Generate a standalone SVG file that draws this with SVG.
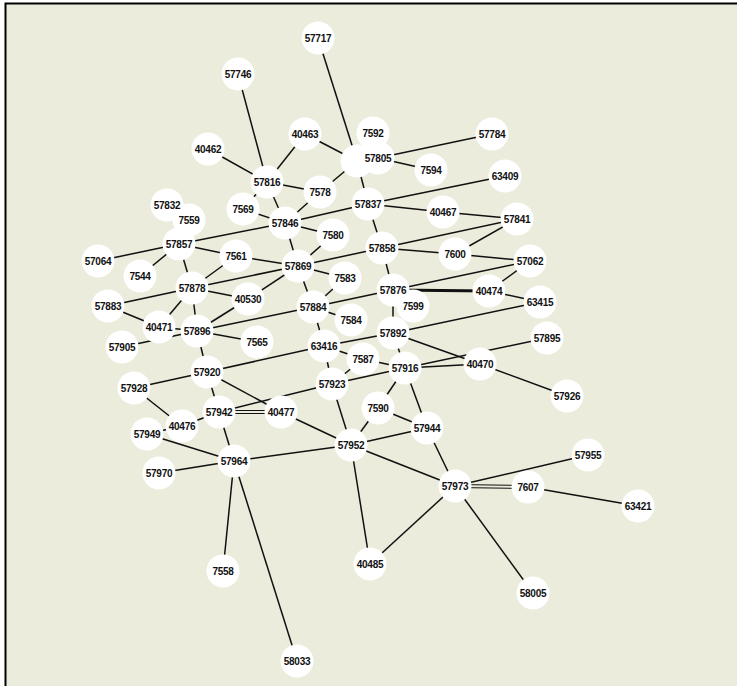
<svg xmlns="http://www.w3.org/2000/svg" width="737" height="686" viewBox="0 0 737 686">
<style>
.e{stroke:#111;stroke-width:1.5;fill:none}
.n circle{fill:#fff}
.n text{font-family:"Liberation Sans",Arial,sans-serif;font-size:10px;font-weight:bold;fill:#111;text-anchor:middle;dominant-baseline:central;letter-spacing:-0.3px}
</style>
<rect width="737" height="686" fill="#fff"/>
<rect x="5" y="3" width="732" height="683" fill="#ECECDC"/>
<path d="M5.5,686V3.5H737" stroke="#000" stroke-width="2" fill="none"/>
<g id="edges" class="e">
<line x1="318" y1="38" x2="357" y2="161"/>
<line x1="305" y1="134" x2="357" y2="161"/>
<line x1="305" y1="134" x2="267" y2="182"/>
<line x1="357" y1="161" x2="320" y2="192"/>
<line x1="357" y1="161" x2="368" y2="204"/>
<line x1="378" y1="158" x2="492" y2="134"/>
<line x1="378" y1="158" x2="431" y2="170"/>
<line x1="238" y1="74" x2="267" y2="182"/>
<line x1="208" y1="149" x2="267" y2="182"/>
<line x1="267" y1="182" x2="320" y2="192"/>
<line x1="267" y1="182" x2="285" y2="223"/>
<line x1="243" y1="209" x2="267" y2="182"/>
<line x1="320" y1="192" x2="285" y2="223"/>
<line x1="243" y1="209" x2="285" y2="223"/>
<line x1="285" y1="223" x2="179" y2="244"/>
<line x1="285" y1="223" x2="368" y2="204"/>
<line x1="285" y1="223" x2="333" y2="235"/>
<line x1="285" y1="223" x2="298" y2="266"/>
<line x1="333" y1="235" x2="298" y2="266"/>
<line x1="368" y1="204" x2="505" y2="176"/>
<line x1="368" y1="204" x2="443" y2="212"/>
<line x1="443" y1="212" x2="517" y2="219"/>
<line x1="368" y1="204" x2="382" y2="248"/>
<line x1="382" y1="248" x2="517" y2="219"/>
<line x1="455" y1="254" x2="517" y2="219"/>
<line x1="382" y1="248" x2="455" y2="254"/>
<line x1="455" y1="254" x2="530" y2="261"/>
<line x1="382" y1="248" x2="298" y2="266"/>
<line x1="382" y1="248" x2="393" y2="290"/>
<line x1="393" y1="290" x2="530" y2="261"/>
<line x1="393" y1="290" x2="489" y2="291" stroke-width="2.8"/>
<line x1="489" y1="291" x2="530" y2="261"/>
<line x1="489" y1="291" x2="540" y2="302"/>
<line x1="393" y1="333" x2="540" y2="302"/>
<line x1="393" y1="290" x2="313" y2="307"/>
<line x1="313" y1="307" x2="197" y2="331"/>
<line x1="298" y1="266" x2="313" y2="307"/>
<line x1="345" y1="278" x2="313" y2="307"/>
<line x1="298" y1="266" x2="345" y2="278"/>
<line x1="313" y1="307" x2="351" y2="320"/>
<line x1="313" y1="307" x2="324" y2="346"/>
<line x1="393" y1="333" x2="324" y2="346"/>
<line x1="393" y1="290" x2="393" y2="333"/>
<line x1="298" y1="266" x2="192" y2="288"/>
<line x1="236" y1="256" x2="298" y2="266"/>
<line x1="248" y1="299" x2="298" y2="266"/>
<line x1="179" y1="244" x2="98" y2="261"/>
<line x1="179" y1="244" x2="140" y2="276"/>
<line x1="179" y1="244" x2="236" y2="256"/>
<line x1="179" y1="244" x2="192" y2="288"/>
<line x1="236" y1="256" x2="192" y2="288"/>
<line x1="192" y1="288" x2="108" y2="306"/>
<line x1="192" y1="288" x2="248" y2="299"/>
<line x1="192" y1="288" x2="159" y2="327"/>
<line x1="192" y1="288" x2="197" y2="331"/>
<line x1="248" y1="299" x2="197" y2="331"/>
<line x1="108" y1="306" x2="159" y2="327"/>
<line x1="159" y1="327" x2="197" y2="331"/>
<line x1="122" y1="347" x2="197" y2="331"/>
<line x1="197" y1="331" x2="257" y2="342"/>
<line x1="197" y1="331" x2="207" y2="372"/>
<line x1="207" y1="372" x2="134" y2="388"/>
<line x1="207" y1="372" x2="324" y2="346"/>
<line x1="207" y1="372" x2="281" y2="412"/>
<line x1="219" y1="412" x2="332" y2="384"/>
<line x1="332" y1="384" x2="405" y2="368"/>
<line x1="219" y1="410.5" x2="281" y2="410.5" stroke-width="1.2"/>
<line x1="219" y1="413.5" x2="281" y2="413.5" stroke-width="1.2"/>
<line x1="219" y1="412" x2="182" y2="426"/>
<line x1="207" y1="372" x2="219" y2="412"/>
<line x1="134" y1="388" x2="182" y2="426"/>
<line x1="182" y1="426" x2="147" y2="434"/>
<line x1="147" y1="434" x2="234" y2="461"/>
<line x1="219" y1="412" x2="234" y2="461"/>
<line x1="159" y1="473" x2="234" y2="461"/>
<line x1="234" y1="461" x2="351" y2="445"/>
<line x1="234" y1="461" x2="223" y2="571"/>
<line x1="234" y1="461" x2="297" y2="661"/>
<line x1="281" y1="412" x2="351" y2="445"/>
<line x1="332" y1="384" x2="351" y2="445"/>
<line x1="324" y1="346" x2="332" y2="384"/>
<line x1="363" y1="359" x2="332" y2="384"/>
<line x1="324" y1="346" x2="363" y2="359"/>
<line x1="363" y1="359" x2="405" y2="368"/>
<line x1="393" y1="333" x2="405" y2="368"/>
<line x1="393" y1="333" x2="480" y2="364"/>
<line x1="405" y1="368" x2="480" y2="364"/>
<line x1="405" y1="368" x2="547" y2="338"/>
<line x1="480" y1="364" x2="567" y2="396"/>
<line x1="405" y1="368" x2="378" y2="408"/>
<line x1="405" y1="368" x2="427" y2="428"/>
<line x1="378" y1="408" x2="427" y2="428"/>
<line x1="378" y1="408" x2="351" y2="445"/>
<line x1="351" y1="445" x2="427" y2="428"/>
<line x1="351" y1="445" x2="455" y2="486"/>
<line x1="427" y1="428" x2="455" y2="486"/>
<line x1="351" y1="445" x2="370" y2="564"/>
<line x1="455" y1="486" x2="370" y2="564"/>
<line x1="455" y1="486" x2="533" y2="593"/>
<line x1="455" y1="486" x2="588" y2="455"/>
<line x1="455" y1="484.5" x2="528" y2="485.5" stroke-width="1.2"/>
<line x1="455" y1="487.5" x2="528" y2="488.5" stroke-width="1.2"/>
<line x1="528" y1="487" x2="638" y2="506"/>
</g>
<g id="nH" class="n"><circle cx="357" cy="161" r="16.5"/></g>
<g id="n7599" class="n"><circle cx="413" cy="306" r="16.5"/><text x="413" y="306">7599</text></g>
<g id="n7559" class="n"><circle cx="189" cy="220" r="16.5"/><text x="189" y="220">7559</text></g>
<g id="n57717" class="n"><circle cx="318" cy="38" r="16.5"/><text x="318" y="38">57717</text></g>
<g id="n57746" class="n"><circle cx="238" cy="74" r="16.5"/><text x="238" y="74">57746</text></g>
<g id="n40463" class="n"><circle cx="305" cy="134" r="16.5"/><text x="305" y="134">40463</text></g>
<g id="n7592" class="n"><circle cx="373" cy="133" r="16.5"/><text x="373" y="133">7592</text></g>
<g id="n57784" class="n"><circle cx="492" cy="134" r="16.5"/><text x="492" y="134">57784</text></g>
<g id="n40462" class="n"><circle cx="208" cy="149" r="16.5"/><text x="208" y="149">40462</text></g>
<g id="n57805" class="n"><circle cx="378" cy="158" r="16.5"/><text x="378" y="158">57805</text></g>
<g id="n7594" class="n"><circle cx="431" cy="170" r="16.5"/><text x="431" y="170">7594</text></g>
<g id="n57816" class="n"><circle cx="267" cy="182" r="16.5"/><text x="267" y="182">57816</text></g>
<g id="n7578" class="n"><circle cx="320" cy="192" r="16.5"/><text x="320" y="192">7578</text></g>
<g id="n63409" class="n"><circle cx="505" cy="176" r="16.5"/><text x="505" y="176">63409</text></g>
<g id="n57837" class="n"><circle cx="368" cy="204" r="16.5"/><text x="368" y="204">57837</text></g>
<g id="n40467" class="n"><circle cx="443" cy="212" r="16.5"/><text x="443" y="212">40467</text></g>
<g id="n57841" class="n"><circle cx="517" cy="219" r="16.5"/><text x="517" y="219">57841</text></g>
<g id="n57832" class="n"><circle cx="167" cy="205" r="16.5"/><text x="167" y="205">57832</text></g>
<g id="n7569" class="n"><circle cx="243" cy="209" r="16.5"/><text x="243" y="209">7569</text></g>
<g id="n57846" class="n"><circle cx="285" cy="223" r="16.5"/><text x="285" y="223">57846</text></g>
<g id="n7580" class="n"><circle cx="333" cy="235" r="16.5"/><text x="333" y="235">7580</text></g>
<g id="n57857" class="n"><circle cx="179" cy="244" r="16.5"/><text x="179" y="244">57857</text></g>
<g id="n57858" class="n"><circle cx="382" cy="248" r="16.5"/><text x="382" y="248">57858</text></g>
<g id="n7600" class="n"><circle cx="455" cy="254" r="16.5"/><text x="455" y="254">7600</text></g>
<g id="n57064" class="n"><circle cx="98" cy="261" r="16.5"/><text x="98" y="261">57064</text></g>
<g id="n7561" class="n"><circle cx="236" cy="256" r="16.5"/><text x="236" y="256">7561</text></g>
<g id="n57869" class="n"><circle cx="298" cy="266" r="16.5"/><text x="298" y="266">57869</text></g>
<g id="n57062" class="n"><circle cx="530" cy="261" r="16.5"/><text x="530" y="261">57062</text></g>
<g id="n7544" class="n"><circle cx="140" cy="276" r="16.5"/><text x="140" y="276">7544</text></g>
<g id="n7583" class="n"><circle cx="345" cy="278" r="16.5"/><text x="345" y="278">7583</text></g>
<g id="n57878" class="n"><circle cx="192" cy="288" r="16.5"/><text x="192" y="288">57878</text></g>
<g id="n57876" class="n"><circle cx="393" cy="290" r="16.5"/><text x="393" y="290">57876</text></g>
<g id="n40474" class="n"><circle cx="489" cy="291" r="16.5"/><text x="489" y="291">40474</text></g>
<g id="n40530" class="n"><circle cx="248" cy="299" r="16.5"/><text x="248" y="299">40530</text></g>
<g id="n57883" class="n"><circle cx="108" cy="306" r="16.5"/><text x="108" y="306">57883</text></g>
<g id="n63415" class="n"><circle cx="540" cy="302" r="16.5"/><text x="540" y="302">63415</text></g>
<g id="n57884" class="n"><circle cx="313" cy="307" r="16.5"/><text x="313" y="307">57884</text></g>
<g id="n7584" class="n"><circle cx="351" cy="320" r="16.5"/><text x="351" y="320">7584</text></g>
<g id="n40471" class="n"><circle cx="159" cy="327" r="16.5"/><text x="159" y="327">40471</text></g>
<g id="n57896" class="n"><circle cx="197" cy="331" r="16.5"/><text x="197" y="331">57896</text></g>
<g id="n7565" class="n"><circle cx="257" cy="342" r="16.5"/><text x="257" y="342">7565</text></g>
<g id="n57892" class="n"><circle cx="393" cy="333" r="16.5"/><text x="393" y="333">57892</text></g>
<g id="n57905" class="n"><circle cx="122" cy="347" r="16.5"/><text x="122" y="347">57905</text></g>
<g id="n63416" class="n"><circle cx="324" cy="346" r="16.5"/><text x="324" y="346">63416</text></g>
<g id="n57895" class="n"><circle cx="547" cy="338" r="16.5"/><text x="547" y="338">57895</text></g>
<g id="n7587" class="n"><circle cx="363" cy="359" r="16.5"/><text x="363" y="359">7587</text></g>
<g id="n57916" class="n"><circle cx="405" cy="368" r="16.5"/><text x="405" y="368">57916</text></g>
<g id="n40470" class="n"><circle cx="480" cy="364" r="16.5"/><text x="480" y="364">40470</text></g>
<g id="n57920" class="n"><circle cx="207" cy="372" r="16.5"/><text x="207" y="372">57920</text></g>
<g id="n57928" class="n"><circle cx="134" cy="388" r="16.5"/><text x="134" y="388">57928</text></g>
<g id="n57923" class="n"><circle cx="332" cy="384" r="16.5"/><text x="332" y="384">57923</text></g>
<g id="n57926" class="n"><circle cx="567" cy="396" r="16.5"/><text x="567" y="396">57926</text></g>
<g id="n40477" class="n"><circle cx="281" cy="412" r="16.5"/><text x="281" y="412">40477</text></g>
<g id="n57942" class="n"><circle cx="219" cy="412" r="16.5"/><text x="219" y="412">57942</text></g>
<g id="n7590" class="n"><circle cx="378" cy="408" r="16.5"/><text x="378" y="408">7590</text></g>
<g id="n40476" class="n"><circle cx="182" cy="426" r="16.5"/><text x="182" y="426">40476</text></g>
<g id="n57944" class="n"><circle cx="427" cy="428" r="16.5"/><text x="427" y="428">57944</text></g>
<g id="n57949" class="n"><circle cx="147" cy="434" r="16.5"/><text x="147" y="434">57949</text></g>
<g id="n57952" class="n"><circle cx="351" cy="445" r="16.5"/><text x="351" y="445">57952</text></g>
<g id="n57964" class="n"><circle cx="234" cy="461" r="16.5"/><text x="234" y="461">57964</text></g>
<g id="n57970" class="n"><circle cx="159" cy="473" r="16.5"/><text x="159" y="473">57970</text></g>
<g id="n57955" class="n"><circle cx="588" cy="455" r="16.5"/><text x="588" y="455">57955</text></g>
<g id="n57973" class="n"><circle cx="455" cy="486" r="16.5"/><text x="455" y="486">57973</text></g>
<g id="n7607" class="n"><circle cx="528" cy="487" r="16.5"/><text x="528" y="487">7607</text></g>
<g id="n63421" class="n"><circle cx="638" cy="506" r="16.5"/><text x="638" y="506">63421</text></g>
<g id="n40485" class="n"><circle cx="370" cy="564" r="16.5"/><text x="370" y="564">40485</text></g>
<g id="n7558" class="n"><circle cx="223" cy="571" r="16.5"/><text x="223" y="571">7558</text></g>
<g id="n58005" class="n"><circle cx="533" cy="593" r="16.5"/><text x="533" y="593">58005</text></g>
<g id="n58033" class="n"><circle cx="297" cy="661" r="16.5"/><text x="297" y="661">58033</text></g>
</svg>
